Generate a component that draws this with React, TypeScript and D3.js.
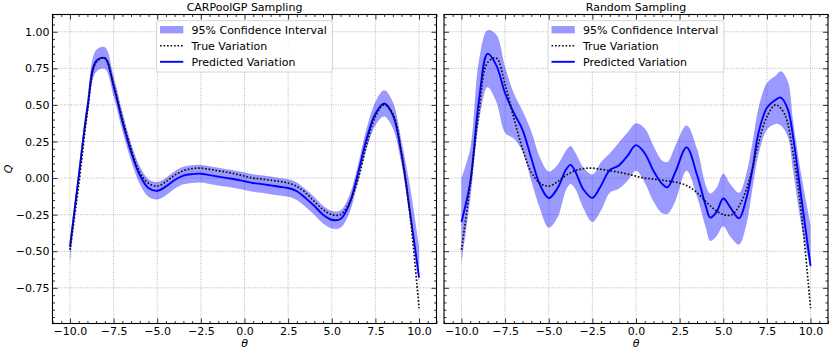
import React, { useEffect, useRef } from 'react';
import * as d3 from 'd3';

// theta grid used for the true curve and the CARPoolGP fit
const thetaGrid = [
  -10, -9.5, -9, -8.5, -8, -7.5, -7, -6.5, -6, -5.5, -5, -4.5, -4, -3.5, -3, -2.5, -2, -1.5, -1, -0.5,
  0, 0.5, 1, 1.5, 2, 2.5, 3, 3.5, 4, 4.5, 5, 5.5, 6, 6.5, 7, 7.5, 8, 8.5, 9, 9.5, 10,
];

const trueQ = [
  -0.49, -0.05, 0.45, 0.79, 0.82, 0.64, 0.41, 0.2, 0.04, -0.035, -0.055, -0.025, 0.02, 0.05, 0.065, 0.068, 0.06, 0.05, 0.04, 0.028,
  0.013, 0.0, -0.007, -0.015, -0.023, -0.034, -0.057, -0.1, -0.16, -0.215, -0.25, -0.25, -0.17, -0.01, 0.23, 0.42, 0.5, 0.44, 0.17, -0.27, -0.89,
];

const carpoolMean = [
  -0.47, 0.01, 0.48, 0.8, 0.82, 0.63, 0.39, 0.18, 0.02, -0.068, -0.087, -0.057, -0.013, 0.017, 0.027, 0.03, 0.02, 0.01, 0.0, -0.01,
  -0.022, -0.034, -0.041, -0.05, -0.059, -0.068, -0.09, -0.137, -0.19, -0.25, -0.285, -0.28, -0.18, 0.03, 0.27, 0.44, 0.51, 0.43, 0.16, -0.25, -0.68,
];

const carpoolUpper = [
  -0.44, 0.06, 0.54, 0.875, 0.895, 0.7, 0.455, 0.24, 0.08, -0.008, -0.027, 0.003, 0.047, 0.077, 0.087, 0.09, 0.08, 0.07, 0.06, 0.05,
  0.038, 0.026, 0.019, 0.01, 0.001, -0.008, -0.03, -0.077, -0.13, -0.19, -0.225, -0.22, -0.12, 0.09, 0.34, 0.52, 0.6, 0.52, 0.25, -0.07, -0.47,
];

const carpoolLower = [
  -0.58, -0.04, 0.42, 0.725, 0.745, 0.56, 0.325, 0.12, -0.04, -0.128, -0.147, -0.117, -0.073, -0.043, -0.033, -0.03, -0.04, -0.05, -0.06, -0.07,
  -0.082, -0.094, -0.101, -0.11, -0.119, -0.128, -0.15, -0.197, -0.25, -0.31, -0.345, -0.34, -0.24, -0.03, 0.2, 0.36, 0.42, 0.34, 0.09, -0.28, -0.7,
];

// random sampling fit, read at its own (uneven) theta points
const randomTheta = [
  -10, -9.5, -9, -8.5, -8, -7.5, -7, -6.5, -6, -5.5, -5, -4.5, -4, -3.75, -3.5, -3, -2.5, -2, -1.5, -1, -0.5,
  0, 0.5, 1, 1.5, 1.8, 2.25, 2.9, 3.5, 4, 4.25, 4.6, 5, 5.4, 5.9, 6.3, 6.7, 7, 7.5, 8, 8.3, 8.7, 9, 9.5, 10,
];

const randomMean = [
  -0.3, -0.03, 0.53, 0.85, 0.77, 0.58, 0.445, 0.33, 0.137, -0.046, -0.137, -0.07, 0.06, 0.09, 0.05, -0.08, -0.135, -0.05, 0.055, 0.085, 0.15,
  0.225, 0.17, 0.05, -0.04, -0.063, 0.04, 0.21, 0.02, -0.19, -0.27, -0.235, -0.14, -0.2, -0.275, -0.15, 0.08, 0.3, 0.48, 0.535, 0.55, 0.47, 0.28, -0.16, -0.6,
];

const randomUpper = [
  0.0, 0.2, 0.8, 1.01, 0.98, 0.76, 0.58, 0.46, 0.32, 0.14, 0.045, 0.09, 0.19, 0.22, 0.18, 0.07, 0.025, 0.11, 0.17, 0.24, 0.31,
  0.375, 0.34, 0.22, 0.12, 0.11, 0.22, 0.36, 0.2, -0.05, -0.105, -0.07, 0.03, -0.04, -0.1, 0.02, 0.26, 0.47, 0.65, 0.7, 0.73, 0.66, 0.39, 0.0, -0.32,
];

const randomLower = [
  -0.58, -0.15, 0.38, 0.62, 0.52, 0.31, 0.27, 0.18, -0.02, -0.21, -0.34, -0.27, -0.08, -0.04, -0.07, -0.21, -0.3, -0.22, -0.1, -0.075, -0.02,
  0.05, -0.03, -0.16, -0.24, -0.245, -0.16, 0.05, -0.13, -0.34, -0.43, -0.4, -0.33, -0.4, -0.455, -0.33, -0.05, 0.15, 0.33, 0.37, 0.36, 0.28, 0.05, -0.34, -0.62,
];

const xTicks = [-10, -7.5, -5, -2.5, 0, 2.5, 5, 7.5, 10];
const yTicks = [-0.75, -0.5, -0.25, 0, 0.25, 0.5, 0.75, 1.0];
const panelTitles = ['CARPoolGP Sampling', 'Random Sampling'];
const legendLabels = ['95% Confidence Interval', 'True Variation', 'Predicted Variation'];

const W = 831;
const H = 353;
const FONT = 'DejaVu Sans, Liberation Sans, sans-serif';
const DOTS = '1.7,1.8';

function drawPanel(svg, p) {
  const x = d3.scaleLinear().domain([-11, 11]).range([p.left, p.right]);
  const y = d3.scaleLinear().domain([-0.994, 1.118]).range([p.bottom, p.top]);
  const g = svg.append('g');

  const clipId = 'clip' + p.idx;
  g.append('clipPath').attr('id', clipId)
    .append('rect')
    .attr('x', p.left).attr('y', p.top)
    .attr('width', p.right - p.left).attr('height', p.bottom - p.top);

  // grid
  g.append('g').selectAll('line').data(xTicks).enter().append('line')
    .attr('x1', d => x(d)).attr('x2', d => x(d))
    .attr('y1', p.top).attr('y2', p.bottom)
    .attr('stroke', '#aaaaaa').attr('stroke-width', 0.8).attr('stroke-dasharray', '1,1.3');
  g.append('g').selectAll('line').data(yTicks).enter().append('line')
    .attr('y1', d => y(d)).attr('y2', d => y(d))
    .attr('x1', p.left).attr('x2', p.right)
    .attr('stroke', '#aaaaaa').attr('stroke-width', 0.8).attr('stroke-dasharray', '1,1.3');

  const plot = g.append('g').attr('clip-path', `url(#${clipId})`);
  const curve = d3.curveCatmullRom.alpha(0.5);

  const band = d3.area()
    .x(i => x(p.theta[i]))
    .y0(i => y(p.lower[i]))
    .y1(i => y(p.upper[i]))
    .curve(curve);
  const idx = p.theta.map((_, i) => i);

  plot.append('path').datum(idx)
    .attr('d', band)
    .attr('fill', '#0000ff').attr('fill-opacity', 0.4).attr('stroke', 'none');

  const trueLine = d3.line().x(i => x(thetaGrid[i])).y(i => y(trueQ[i])).curve(curve);
  const meanLine = d3.line().x(i => x(p.theta[i])).y(i => y(p.mean[i])).curve(curve);

  plot.append('path').datum(idx)
    .attr('d', meanLine)
    .attr('fill', 'none').attr('stroke', '#0000ff').attr('stroke-width', 1.9);

  plot.append('path').datum(thetaGrid.map((_, i) => i))
    .attr('d', trueLine)
    .attr('fill', 'none').attr('stroke', '#111').attr('stroke-width', 1.7)
    .attr('stroke-dasharray', DOTS);

  // axes, ticks pointing inward
  const minorX = d3.range(-11, 11.01, 0.5).filter(v => !xTicks.includes(v));
  const minorY = d3.range(-0.95, 1.11, 0.05).map(v => Math.round(v * 100) / 100).filter(v => !yTicks.includes(v));

  const styleAxis = (sel) => {
    sel.select('.domain').remove();
    sel.selectAll('line').attr('stroke', '#000').attr('stroke-width', 0.8);
    sel.selectAll('text').attr('fill', '#000').style('font-family', FONT).style('font-size', '11px');
  };

  g.append('g').attr('transform', `translate(0,${p.bottom})`)
    .call(d3.axisBottom(x).tickValues(xTicks).tickSize(-5).tickSizeOuter(0).tickPadding(3.5).tickFormat(d3.format('.1f')))
    .call(styleAxis);
  g.append('g').attr('transform', `translate(0,${p.bottom})`)
    .call(d3.axisBottom(x).tickValues(minorX).tickSize(-2.5).tickSizeOuter(0).tickFormat(() => ''))
    .call(styleAxis);
  g.append('g').attr('transform', `translate(0,${p.top})`)
    .call(d3.axisTop(x).tickValues(xTicks).tickSize(-5).tickSizeOuter(0).tickFormat(() => ''))
    .call(styleAxis);
  g.append('g').attr('transform', `translate(0,${p.top})`)
    .call(d3.axisTop(x).tickValues(minorX).tickSize(-2.5).tickSizeOuter(0).tickFormat(() => ''))
    .call(styleAxis);

  g.append('g').attr('transform', `translate(${p.left},0)`)
    .call(d3.axisLeft(y).tickValues(yTicks).tickSize(-5).tickSizeOuter(0).tickPadding(3)
      .tickFormat(p.showYLabels ? d3.format('.2f') : () => ''))
    .call(styleAxis);
  g.append('g').attr('transform', `translate(${p.left},0)`)
    .call(d3.axisLeft(y).tickValues(minorY).tickSize(-2.5).tickSizeOuter(0).tickFormat(() => ''))
    .call(styleAxis);
  g.append('g').attr('transform', `translate(${p.right},0)`)
    .call(d3.axisRight(y).tickValues(yTicks).tickSize(-5).tickSizeOuter(0).tickFormat(() => ''))
    .call(styleAxis);
  g.append('g').attr('transform', `translate(${p.right},0)`)
    .call(d3.axisRight(y).tickValues(minorY).tickSize(-2.5).tickSizeOuter(0).tickFormat(() => ''))
    .call(styleAxis);

  g.append('rect')
    .attr('x', p.left).attr('y', p.top)
    .attr('width', p.right - p.left).attr('height', p.bottom - p.top)
    .attr('fill', 'none').attr('stroke', '#000').attr('stroke-width', 1.1);

  const cx = (p.left + p.right) / 2;
  g.append('text')
    .attr('x', cx).attr('y', 10.5)
    .attr('text-anchor', 'middle')
    .style('font-family', FONT).style('font-size', '11px')
    .text(p.title);

  g.append('text')
    .attr('x', cx).attr('y', 347)
    .attr('text-anchor', 'middle')
    .style('font-family', FONT).style('font-size', '11px').style('font-style', 'italic')
    .text('θ');

  // legend
  const lw = 176, lh = 51.3;
  const lx = cx - lw / 2, ly = p.top + 6.2;
  const leg = g.append('g');
  leg.append('rect')
    .attr('x', lx).attr('y', ly).attr('width', lw).attr('height', lh).attr('rx', 2.5)
    .attr('fill', '#fff').attr('fill-opacity', 0.8).attr('stroke', '#cccccc').attr('stroke-width', 0.8);

  const rows = legendLabels.map((label, i) => ({ label, cy: ly + 9 + i * 16.05 }));
  const hx = lx + 3.5;
  leg.append('rect')
    .attr('x', hx).attr('y', rows[0].cy - 3.7).attr('width', 23.3).attr('height', 7.4)
    .attr('fill', '#0000ff').attr('fill-opacity', 0.4);
  leg.append('line')
    .attr('x1', hx).attr('x2', hx + 23.3).attr('y1', rows[1].cy).attr('y2', rows[1].cy)
    .attr('stroke', '#111').attr('stroke-width', 1.7).attr('stroke-dasharray', DOTS);
  leg.append('line')
    .attr('x1', hx).attr('x2', hx + 23.3).attr('y1', rows[2].cy).attr('y2', rows[2].cy)
    .attr('stroke', '#0000ff').attr('stroke-width', 1.9);
  leg.selectAll('text.lbl').data(rows).enter().append('text')
    .attr('class', 'lbl')
    .attr('x', lx + 35).attr('y', d => d.cy + 4)
    .style('font-family', FONT).style('font-size', '11px')
    .text(d => d.label);
}

export default function App() {
  const ref = useRef(null);

  useEffect(() => {
    const svg = d3.select(ref.current);
    svg.selectAll('*').remove();

    drawPanel(svg, {
      idx: 0, left: 52.5, right: 436.5, top: 14.5, bottom: 323.5,
      theta: thetaGrid, mean: carpoolMean, lower: carpoolLower, upper: carpoolUpper,
      title: panelTitles[0], showYLabels: true,
    });
    drawPanel(svg, {
      idx: 1, left: 444, right: 828, top: 14.5, bottom: 323.5,
      theta: randomTheta, mean: randomMean, lower: randomLower, upper: randomUpper,
      title: panelTitles[1], showYLabels: false,
    });

    svg.append('text')
      .attr('transform', 'translate(11.5,169) rotate(-90)')
      .attr('text-anchor', 'middle')
      .style('font-family', FONT).style('font-size', '11px').style('font-style', 'italic')
      .text('Q');
  }, []);

  return (
    <svg ref={ref} width={W} height={H}
      style={{ position: 'absolute', left: 0, top: 0, background: '#fff' }} />
  );
}
